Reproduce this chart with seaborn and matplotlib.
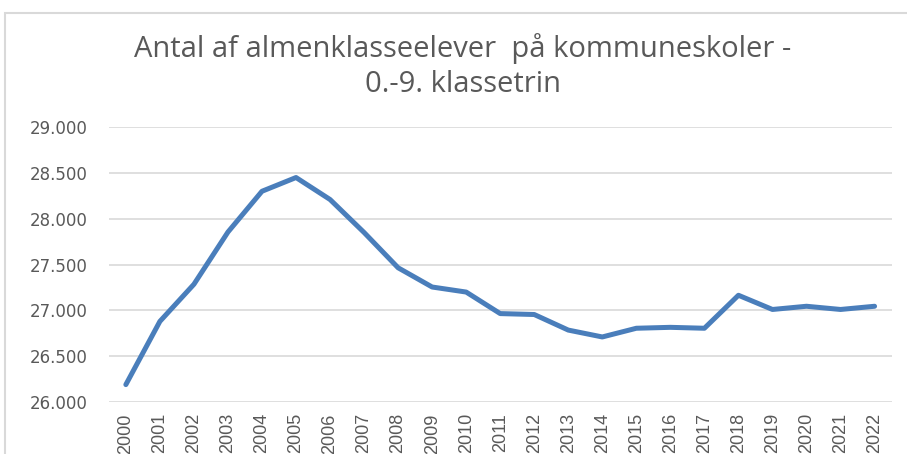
"""Antal almenklasseelever på kommuneskoler, 0.-9. klassetrin (2000-2022)."""

import matplotlib
matplotlib.use("Agg")

import matplotlib.pyplot as plt
import matplotlib.ticker as mticker
import pandas as pd
import seaborn as sns
from matplotlib.patches import Rectangle

# -- data ----------------------------------------------------------------
years = [str(y) for y in range(2000, 2023)]
students = [26190, 26880, 27285, 27855, 28300, 28450, 28210, 27850, 27465,
            27255, 27200, 26965, 26955, 26785, 26710, 26805, 26815, 26805,
            27165, 27010, 27045, 27010, 27045]
y_ticks = [26000, 26500, 27000, 27500, 28000, 28500, 29000]
title_lines = ["Antal af almenklasseelever  på kommuneskoler -",
               "0.-9. klassetrin"]

LINE = "#4a7ebb"
GREY_TXT = "#595959"
GRID = "#d9d9d9"

sns.set_theme(style="white")
plt.rcParams["font.family"] = ["Liberation Sans", "DejaVu Sans"]


def main() -> None:
    df = pd.DataFrame({"year": years, "students": students})

    fig = plt.figure(figsize=(9.07, 4.54), dpi=100)
    ax = fig.add_axes([0.120, 0.1145, 0.863, 0.6055])

    # chart-area frame (Excel style), running off the right and bottom edges
    top = 1 - 13 / 454
    fig.patches.append(Rectangle((5 / 907, -0.1), 1.2, top + 0.1,
                                 transform=fig.transFigure, fill=False,
                                 edgecolor="#d9d9d9", linewidth=1.5))

    sns.lineplot(data=df, x="year", y="students", ax=ax, color=LINE,
                 linewidth=3.6, sort=False)
    ax.lines[0].set_solid_capstyle("round")

    ax.set_xlim(-0.5, len(years) - 0.5)
    ax.set_ylim(y_ticks[0], y_ticks[-1])
    ax.set_yticks(y_ticks)
    ax.yaxis.set_major_formatter(
        mticker.FuncFormatter(lambda v, _: f"{int(v):,}".replace(",", ".")))
    ax.grid(axis="y", color=GRID, linewidth=1.2)
    ax.set_axisbelow(True)
    for s in ax.spines.values():
        s.set_visible(False)
    ax.tick_params(axis="both", length=0)
    ax.tick_params(axis="y", labelsize=12, labelcolor=GREY_TXT, pad=15)
    ax.tick_params(axis="x", labelsize=13, labelcolor=GREY_TXT, pad=8)
    plt.setp(ax.get_xticklabels(), rotation=90, va="top")
    for lab in ax.get_yticklabels():
        lab.set_family(["DejaVu Sans"])
    ax.set_xlabel("")
    ax.set_ylabel("")

    # two-line title, one text per line so each baseline sits where it should
    for txt, base_px in zip(title_lines, (57, 92)):
        fig.text(463 / 907, 1 - base_px / 454, txt, ha="center", va="baseline",
                 fontsize=21, color=GREY_TXT,
                 family=["Open Sans", "DejaVu Sans"])

    fig.savefig("out.png", dpi=100, facecolor="white")
    plt.close(fig)


if __name__ == "__main__":
    main()
